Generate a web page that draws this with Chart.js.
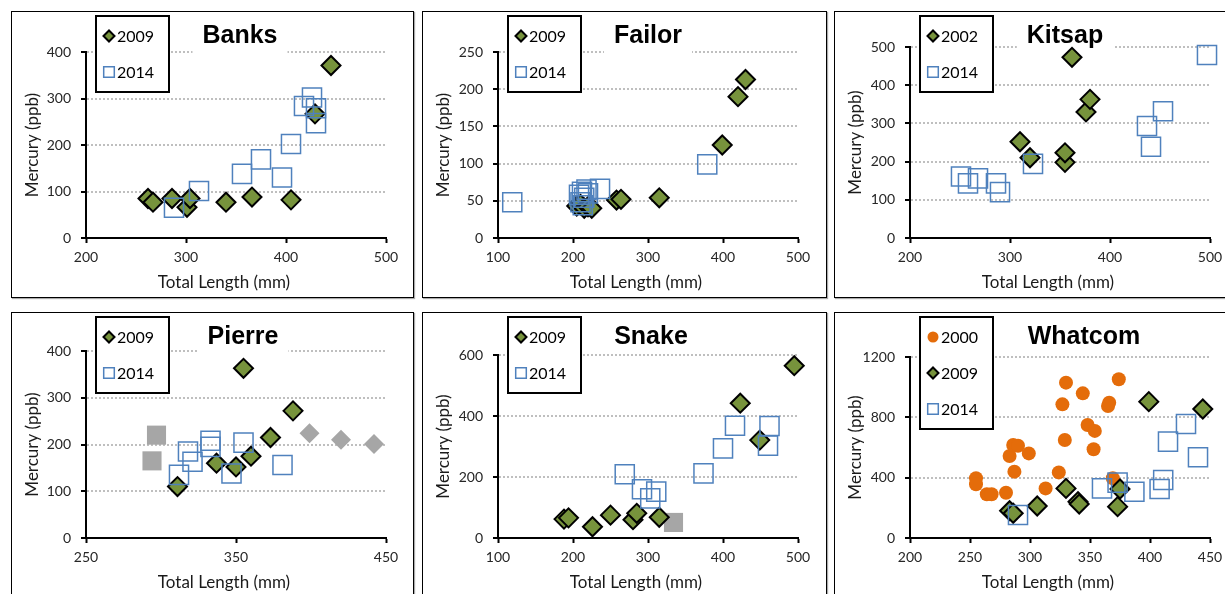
<!DOCTYPE html>
<html>
<head>
<meta charset="utf-8">
<script src="https://cdn.jsdelivr.net/npm/chart.js@4.4.1/dist/chart.umd.min.js"></script>
<style>
  body { margin: 0; background: #fff; width: 1225px; height: 594px; overflow: hidden; position: relative; }
  .panel { position: absolute; border: 1px solid #000; box-sizing: border-box; box-shadow: 1px 1px 1px #aaa; background: #fff; }
  .panel canvas { position: absolute; left: 0; top: 0; }
</style>
</head>
<body>
<script>
// ---- data: [total length (mm), mercury (ppb)] ----
const banks2009 = [[262,85],[267,77],[286,85],[301,66],[304,85],[340,77],[366,88],[405,82],[429,267],[445,371]];
const banks2014 = [[288,65],[313,101],[356,138],[375,169],[396,130],[405,202],[418,284],[426,302],[430,279],[430,247]];

const failor2009 = [[205,43],[210,45],[215,40],[220,42],[225,40],[258,51],[264,52],[315,54],[399,125],[420,190],[430,213]];
const failor2014 = [[119,48],[208,58],[212,62],[215,54],[218,65],[220,60],[210,48],[213,44],[236,66],[379,99]];

const kitsap2002 = [[310,252],[320,210],[355,198],[355,223],[362,473],[376,330],[380,363]];
const kitsap2014 = [[251,161],[258,143],[268,156],[286,143],[290,120],[323,194],[437,293],[441,239],[453,332],[497,479]];

const pierre2009 = [[311,110],[337,160],[350,152],[355,363],[360,175],[373,215],[388,272]];
const pierre2014 = [[312,135],[318,185],[321,163],[333,208],[333,195],[347,138],[355,204],[381,156]];
const pierreGraySquares = [[294,165],[297,220]];
const pierreGrayDiamonds = [[399,224],[420,210],[442,201]];

const snake2009 = [[188,62],[194,66],[226,37],[250,75],[280,60],[285,81],[315,68],[423,442],[449,321],[495,565]];
const snake2014 = [[269,209],[292,160],[303,130],[311,152],[374,212],[400,294],[416,368],[462,367],[460,303]];
const snakeGraySquares = [[334,51]];

const whatcom2000 = [[255,396],[255,356],[264,290],[268,290],[280,300],[283,544],[286,617],[290,612],[287,440],[299,561],
  [313,329],[324,435],[327,886],[329,650],[330,1030],[344,959],[348,749],[354,710],[353,588],[365,875],[366,897],[369,396],[374,1052]];
const whatcom2009 = [[283,181],[286,164],[306,212],[330,329],[340,241],[341,225],[373,208],[375,325],[399,904],[444,855]];
const whatcom2014 = [[290,152],[360,329],[373,367],[387,307],[408,325],[411,385],[415,639],[430,756],[440,535]];

// tick labels
const xTicks200to500 = [200, 300, 400, 500];
const xTicks100to500 = [100, 200, 300, 400, 500];
const xTicksPierre = [250, 350, 450];
const xTicksWhatcom = [200, 250, 300, 350, 400, 450];
const yTicks400 = [0, 100, 200, 300, 400];
const yTicks250 = [0, 50, 100, 150, 200, 250];
const yTicks500 = [0, 100, 200, 300, 400, 500];
const yTicks600 = [0, 200, 400, 600];
const yTicks1200 = [0, 400, 800, 1200];

const xTitle = "Total Length (mm)";
const yTitle = "Mercury (ppb)";

// ---- marker styles ----
const markers = {
  diamond: { pointStyle: "rectRot", pointRadius: 9.5, legendRadius: 5.5, pointBackgroundColor: "#77933C", pointBorderColor: "#000", pointBorderWidth: 2, order: 2 },
  square: { pointStyle: "rect", pointRadius: 13.5, legendRadius: 7.5, pointBackgroundColor: "rgba(0,0,0,0)", pointBorderColor: "#4F81BD", pointBorderWidth: 1.5, order: 1 },
  circle: { pointStyle: "circle", pointRadius: 7, legendRadius: 5.5, pointBackgroundColor: "#E46C0A", pointBorderColor: "#E46C0A", pointBorderWidth: 0, order: 3 },
  graySquare: { pointStyle: "rect", pointRadius: 13.5, pointBackgroundColor: "#A6A6A6", pointBorderColor: "#A6A6A6", pointBorderWidth: 0, order: 4 },
  grayDiamond: { pointStyle: "rectRot", pointRadius: 10, pointBackgroundColor: "#A6A6A6", pointBorderColor: "#A6A6A6", pointBorderWidth: 0, order: 4 },
};

// ---- panels: box = [left, top, width, height], area = [left, right, top, bottom] (page px) ----
const panels = [
  { title: "Banks", shift: 4, box: [11, 11, 403, 287], area: [86, 386, 52, 238], xTicks: xTicks200to500, yTicks: yTicks400,
    series: [["2009", banks2009, "diamond"], ["2014", banks2014, "square"]] },
  { title: "Failor", shift: 0, box: [422, 11, 405, 287], area: [498, 798, 52, 238], xTicks: xTicks100to500, yTicks: yTicks250,
    series: [["2009", failor2009, "diamond"], ["2014", failor2014, "square"]] },
  { title: "Kitsap", shift: 5, box: [834, 11, 400, 287], area: [910, 1210, 47, 238], xTicks: xTicks200to500, yTicks: yTicks500,
    series: [["2002", kitsap2002, "diamond"], ["2014", kitsap2014, "square"]] },
  { title: "Pierre", shift: 7, box: [11, 312, 403, 287], area: [86, 386, 351, 538], xTicks: xTicksPierre, yTicks: yTicks400,
    series: [["2009", pierre2009, "diamond"], ["2014", pierre2014, "square"], [null, pierreGraySquares, "graySquare"], [null, pierreGrayDiamonds, "grayDiamond"]] },
  { title: "Snake", shift: 3, box: [422, 312, 405, 287], area: [498, 798, 355, 538], xTicks: xTicks100to500, yTicks: yTicks600,
    series: [["2009", snake2009, "diamond"], ["2014", snake2014, "square"], [null, snakeGraySquares, "graySquare"]] },
  { title: "Whatcom", shift: 24, box: [834, 312, 400, 287], area: [910, 1210, 357, 538], xTicks: xTicksWhatcom, yTicks: yTicks1200,
    series: [["2000", whatcom2000, "circle"], ["2009", whatcom2009, "diamond"], ["2014", whatcom2014, "square"]] },
];

const LABEL_FONT = "Lato, 'Open Sans', sans-serif";

// title + boxed legend inside the plot, drawn over grid but under markers
const panelDecor = {
  id: "panelDecor",
  beforeDatasetsDraw(chart, args, opts) {
    const ctx = chart.ctx;
    const a = chart.chartArea;
    ctx.save();

    ctx.font = "bold 25px 'Liberation Sans', Arial, sans-serif";
    const tw = ctx.measureText(opts.title).width;
    const tx = (a.left + a.right) / 2 + opts.shift;
    const ty = 24;
    ctx.fillStyle = "#fff";
    ctx.fillRect(tx - tw / 2 - 10, ty - 16, tw + 20, 33);
    ctx.fillStyle = "#000";
    ctx.textAlign = "center";
    ctx.textBaseline = "middle";
    ctx.fillText(opts.title, tx, ty);

    // x axis title, sits a little left of centre as in the original
    ctx.font = "17px " + LABEL_FONT;
    ctx.fillStyle = "#1a1a1a";
    ctx.fillText(xTitle, (a.left + a.right) / 2 - 12, a.bottom + 45);

    const items = chart.data.datasets.filter(d => d.inLegend);
    const bx = a.left + 10, by = 4, bw = 73;
    const bh = 40 + 36 * (items.length - 1);
    ctx.fillStyle = "#fff";
    ctx.fillRect(bx, by, bw, bh);
    ctx.lineWidth = 2;
    ctx.strokeStyle = "#000";
    ctx.strokeRect(bx, by, bw, bh);

    ctx.font = "16px " + LABEL_FONT;
    ctx.textAlign = "left";
    items.forEach((d, i) => {
      const cy = by + 20 + 36 * i;
      ctx.fillStyle = d.pointBackgroundColor;
      ctx.strokeStyle = d.pointBorderColor;
      ctx.lineWidth = d.pointBorderWidth;
      Chart.helpers.drawPoint(ctx, { pointStyle: d.pointStyle, radius: d.legendRadius, borderWidth: d.pointBorderWidth, rotation: 0 }, bx + 13, cy);
      ctx.fillStyle = "#000";
      ctx.fillText(d.label, bx + 21, cy + 1);
    });
    ctx.restore();
  },
};

panels.forEach(p => {
  const [pl, pt, pw, ph] = p.box;
  const [al, ar, at, ab] = p.area;
  const div = document.createElement("div");
  div.className = "panel";
  div.style.left = pl + "px";
  div.style.top = pt + "px";
  div.style.width = pw + "px";
  div.style.height = ph + "px";
  const canvas = document.createElement("canvas");
  const cw = pw - 2, ch = ph - 2;
  canvas.width = cw;
  canvas.height = ch;
  div.appendChild(canvas);
  document.body.appendChild(div);

  const yWidth = al - (pl + 1);
  const xHeight = (pt + 1 + ch) - ab;

  const datasets = p.series.map(([label, pts, kind]) => Object.assign({
    label: label || "",
    inLegend: !!label,
    data: pts.map(([x, y]) => ({ x, y })),
    showLine: false,
    clip: false,
  }, markers[kind]));

  new Chart(canvas, {
    type: "scatter",
    data: { datasets },
    options: {
      responsive: false,
      animation: false,
      layout: { padding: { left: 0, top: at - (pt + 1), right: (pl + 1 + cw) - ar, bottom: 0 } },
      plugins: {
        legend: { display: false },
        tooltip: { enabled: false },
        panelDecor: { title: p.title, shift: p.shift },
      },
      scales: {
        x: {
          type: "linear",
          min: p.xTicks[0],
          max: p.xTicks[p.xTicks.length - 1],
          afterBuildTicks: s => { s.ticks = p.xTicks.map(v => ({ value: v })); },
          afterFit: s => { s.height = xHeight; },
          grid: { drawOnChartArea: false, drawTicks: true, tickLength: 5, tickColor: "#000", tickWidth: 2 },
          border: { display: true, color: "#000", width: 2 },
          ticks: { autoSkip: false, maxRotation: 0, padding: 6, color: "#262626", font: { family: LABEL_FONT, size: 14 }, callback: v => String(v) },
          title: { display: false },
        },
        y: {
          type: "linear",
          min: p.yTicks[0],
          max: p.yTicks[p.yTicks.length - 1],
          afterBuildTicks: s => { s.ticks = p.yTicks.map(v => ({ value: v })); },
          afterFit: s => { s.width = yWidth; },
          grid: { drawOnChartArea: true, color: "#BFBFBF", lineWidth: 2, drawTicks: true, tickLength: 5, tickColor: "#000", tickWidth: 2, tickBorderDash: [] },
          border: { display: true, color: "#000", width: 2, dash: [2, 2] },
          ticks: { padding: 10, color: "#262626", font: { family: LABEL_FONT, size: 14 }, callback: v => String(v) },
          title: { display: true, text: yTitle, color: "#1a1a1a", font: { family: LABEL_FONT, size: 17 }, padding: { top: 10, bottom: 0 } },
        },
      },
    },
    plugins: [panelDecor],
  });
});
</script>
</body>
</html>
